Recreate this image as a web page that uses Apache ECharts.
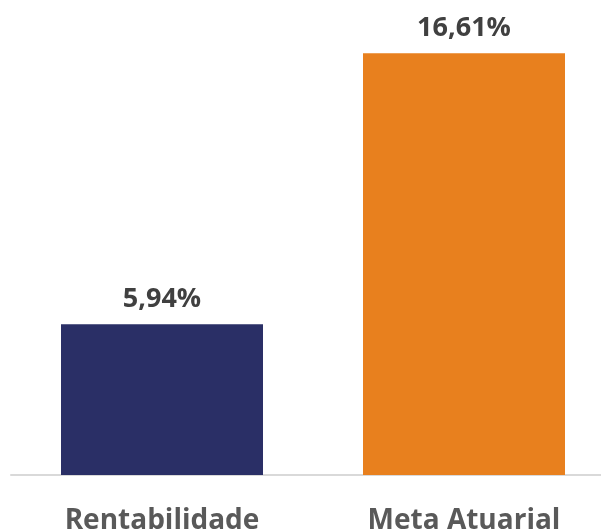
<!DOCTYPE html>
<html>
<head>
<meta charset="utf-8">
<script src="https://cdn.jsdelivr.net/npm/echarts@6/dist/echarts.min.js"></script>
<style>
  html, body { margin: 0; padding: 0; background: #fff; }
  #main { width: 601px; height: 531px; }
</style>
</head>
<body>
<div id="main"></div>
<script>
var categories = ['Rentabilidade', 'Meta Atuarial'];
var values = [5.94, 16.61];
var colors = ['#2a2f66', '#e8801e'];

var myChart = echarts.init(document.getElementById('main'));
var option = {
    animation: false,
    grid: { left: 11, width: 604, top: 18, bottom: 56, outerBoundsMode: 'none', containLabel: false },
    xAxis: {
        type: 'category',
        data: categories,
        axisTick: { show: false },
        axisLine: { lineStyle: { color: '#d9d9d9', width: 2 } },
        axisLabel: {
            color: '#595959',
            fontFamily: 'Open Sans',
            fontWeight: 'bold',
            fontSize: 28,
            margin: 32
        }
    },
    yAxis: {
        type: 'value',
        min: 0,
        max: 18,
        show: false,
        splitLine: { show: false }
    },
    series: [{
        type: 'bar',
        barWidth: 202,
        data: values.map(function (v, i) {
            return { value: v, itemStyle: { color: colors[i] } };
        }),
        label: {
            show: true,
            position: 'top',
            distance: 11,
            color: '#404040',
            fontFamily: 'Open Sans',
            fontWeight: 'bold',
            fontSize: 27,
            formatter: function (p) {
                return p.value.toFixed(2).replace('.', ',') + '%';
            }
        }
    }]
};
myChart.setOption(option);
</script>
</body>
</html>
